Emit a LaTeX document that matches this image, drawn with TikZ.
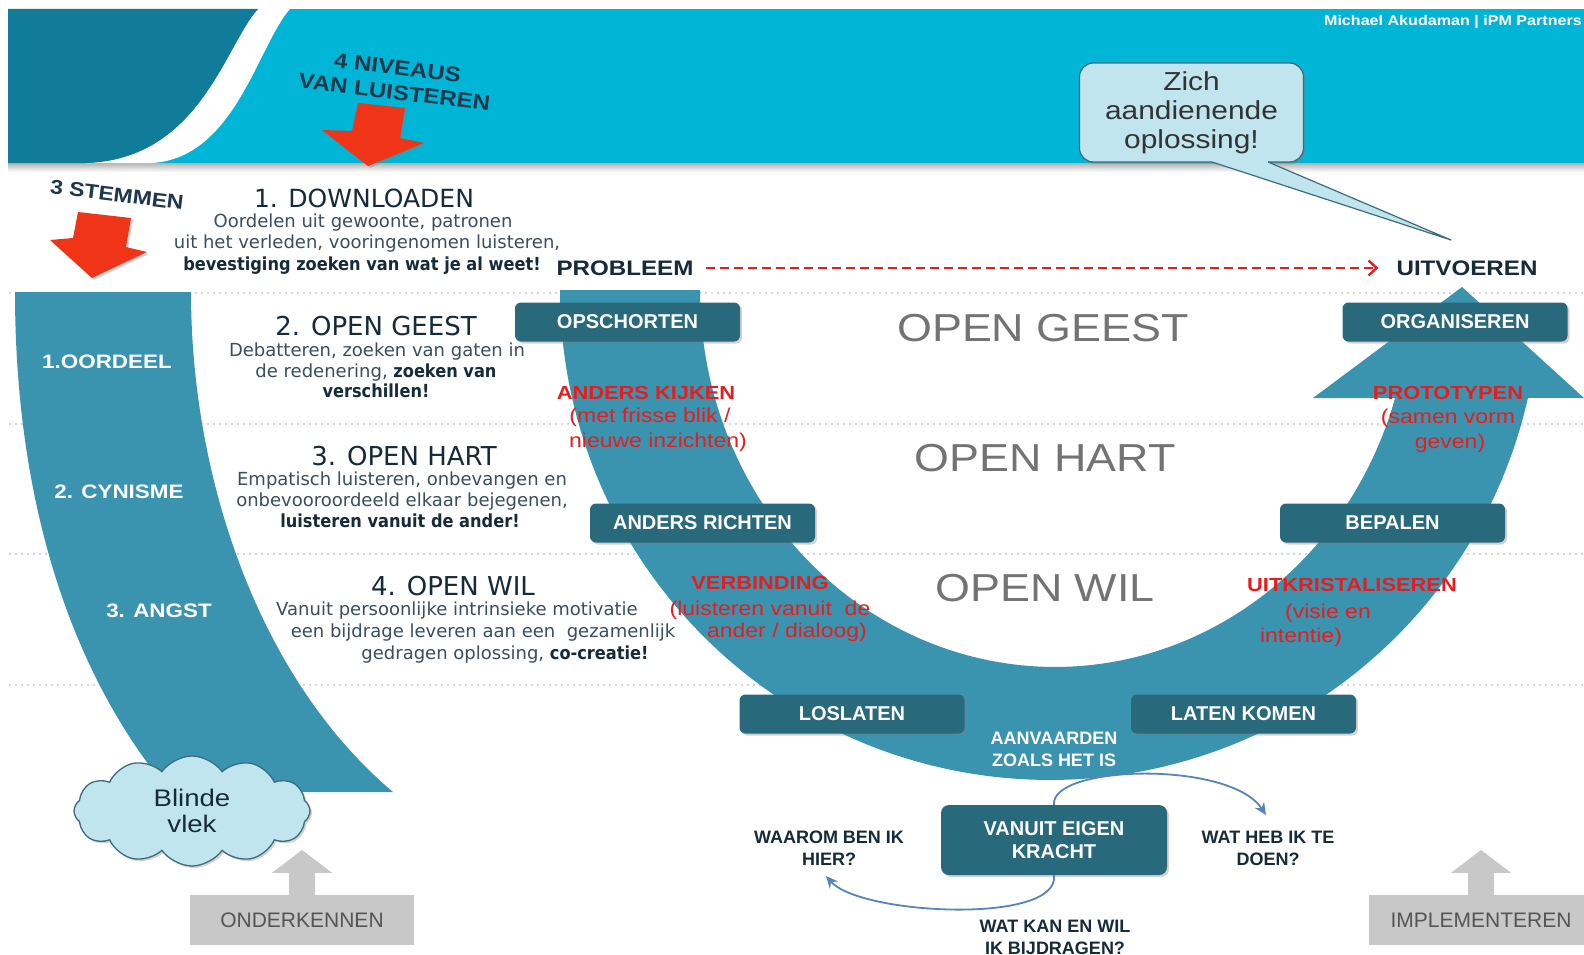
\documentclass[tikz,border=0pt]{standalone}
\usepackage{fontspec}
\usetikzlibrary{arrows.meta,shapes.symbols,shadows,calc}
\newfontfamily\dv{DejaVu Sans}[BoldFeatures={FakeStretch=0.9}]
\newfontfamily\ls{Liberation Sans}[FakeStretch=1.15]
\newfontfamily\lsn{Liberation Sans}
\definecolor{cyanb}{RGB}{0,181,213}
\definecolor{darkb}{RGB}{16,124,154}
\definecolor{bandc}{RGB}{58,148,175}
\definecolor{boxc}{RGB}{40,105,124}
\definecolor{txt}{RGB}{58,78,92}
\definecolor{txtd}{RGB}{22,42,56}
\definecolor{redl}{RGB}{232,28,28}
\definecolor{redarr}{RGB}{240,52,24}
\definecolor{grayt}{RGB}{115,115,115}
\definecolor{cloudf}{RGB}{192,229,238}
\definecolor{cloudd}{RGB}{62,108,122}
\definecolor{gboxc}{RGB}{200,200,200}
\definecolor{gtext}{RGB}{85,85,85}
\definecolor{blueline}{RGB}{88,132,190}
\definecolor{dotc}{RGB}{165,176,182}
\definecolor{navy}{RGB}{30,55,75}
\begin{document}
\begin{tikzpicture}[x=1pt,y=-1pt,
  hd/.style={font=\dv\fontsize{26}{30}\selectfont, text=txtd, inner sep=0pt, anchor=base},
  bd/.style={font=\dv\fontsize{18}{22}\selectfont, text=txt, inner sep=0pt, anchor=base},
  gbig/.style={font=\ls\fontsize{39}{44}\selectfont, text=grayt, inner sep=0pt},
  rl/.style={font=\ls\bfseries\fontsize{19}{22}\selectfont, text=redl, inner sep=0pt},
  rlt/.style={font=\ls\fontsize{20}{22}\selectfont, text=redl, inner sep=0pt},
  bx/.style={fill=boxc, rounded corners=6pt, minimum width=225pt, minimum height=39pt, text=white,
     font=\lsn\bfseries\fontsize{20}{23}\selectfont, inner sep=0pt,
     drop shadow={opacity=.35, shadow xshift=2pt, shadow yshift=-2pt}},
  wl/.style={font=\ls\bfseries\fontsize{19.5}{22}\selectfont, text=white, inner sep=0pt},
  lbl/.style={font=\ls\bfseries\fontsize{21}{24}\selectfont, text=txtd, inner sep=0pt},
  tilt/.style={font=\ls\bfseries\fontsize{21}{24.5}\selectfont, text=navy, inner sep=0pt, rotate=-7, align=center},
  qq/.style={font=\lsn\bfseries\fontsize{18}{22}\selectfont, text=txtd, align=center, inner sep=0pt},
  gbx/.style={fill=gboxc, minimum width=224pt, minimum height=50pt, inner sep=0pt,
     font=\lsn\fontsize{21}{24}\selectfont, text=gtext},
  blarrow/.style={draw=blueline, line width=1.8pt, -{Stealth[length=12pt,width=11pt,inset=4pt]}},
  reddash/.style={draw=redl, line width=2pt, dash pattern=on 9pt off 5pt, -{Straight Barb[length=8pt,width=15pt,line width=2.4pt]}},
  dotline/.style={draw=dotc, line width=1.6pt, line cap=round, dash pattern=on 0pt off 6pt},
  redblock/.style={fill=redarr, drop shadow={opacity=.3, shadow xshift=2pt, shadow yshift=-2pt}}
]
\useasboundingbox (0,0) rectangle (1584,955);
\fill[white] (0,0) rectangle (1584,955);

% banner
\shade[top color=black!30, bottom color=white] (8,163) rectangle (1584,172);
\fill[cyanb] (8,9) rectangle (1584,163);
\fill[white] (258,9) -- (290,9) .. controls (258,45) and (235,158) .. (152,163) -- (85,163) .. controls (200,160) and (225,45) .. (258,9) -- cycle;
\fill[darkb] (8,9) -- (258,9) .. controls (225,45) and (200,160) .. (85,163) -- (8,163) -- cycle;
\node[anchor=east, font=\ls\bfseries\fontsize{14}{16}\selectfont, text=white, inner sep=0pt] (cred) at (1582,22) {Michael Akudaman | iPM Partners};

% dotted guide lines
\draw[dotline] (10,293) -- (1584,293);
\draw[dotline] (10,424) -- (1584,424);
\draw[dotline] (10,554) -- (1584,554);
\draw[dotline] (10,685) -- (1584,685);

% left band
\fill[bandc] (15,292) .. controls (15,480) and (60,660) .. (170,792) -- (393,792) .. controls (260,680) and (191,480) .. (191,292) -- cycle;

% U band with arrow head
\fill[bandc] (560,290) -- plot[domain=180:12.73,samples=100] ({1050+490*cos(\x)},{290+490*sin(\x)})
  -- (1584,398) -- (1462,287) -- (1313,398)
  -- plot[domain=16.65:180,samples=100] ({1055+355*cos(\x)},{290+377*sin(\x)}) -- cycle;

% red block arrows
\fill[redblock] (358,103) -- (405,108) -- (400,138) -- (424,143) -- (368,166) -- (322,130) -- (352,131) -- cycle;
\fill[redblock] (78,212) -- (131,218) -- (126,247) -- (147,252) -- (92,278) -- (50,240) -- (73,238) -- cycle;

\node[tilt] (niv) at (396,80) {4 NIVEAUS\\VAN LUISTEREN};
\node[tilt, font=\ls\bfseries\fontsize{20}{22}\selectfont] (stem) at (117,195) {3 STEMMEN};

% listening levels
\node[hd, font=\dv\fontsize{25}{30}\selectfont] (h1) at (364,207) {1. DOWNLOADEN};
\node[bd] (b1a) at (363,227) {Oordelen uit gewoonte, patronen};
\node[bd] (b1b) at (367,248) {uit het verleden, vooringenomen luisteren,};
\node[bd, text=txtd] (b1c) at (362,270) {\bfseries bevestiging zoeken van wat je al weet!};

\node[hd] (h2) at (376,335) {2. OPEN GEEST};
\node[bd] (b2a) at (377,356) {Debatteren, zoeken van gaten in};
\node[bd] (b2b) at (376,377) {de redenering, {\bfseries\color{txtd}zoeken van}};
\node[bd, text=txtd] (b2c) at (376,397) {\bfseries verschillen!};

\node[hd] (h3) at (404,465) {3. OPEN HART};
\node[bd] (b3a) at (402,485) {Empatisch luisteren, onbevangen en};
\node[bd] (b3b) at (402,506) {onbevooroordeeld elkaar bejegenen,};
\node[bd, text=txtd] (b3c) at (400,527) {\bfseries luisteren vanuit de ander!};

\node[hd] (h4) at (453,595) {4. OPEN WIL};
\node[bd] (b4a) at (457,615) {Vanuit persoonlijke intrinsieke motivatie};
\node[bd] (b4b) at (483,637) {een bijdrage leveren aan een\ \ gezamenlijk};
\node[bd] (b4c) at (505,659) {gedragen oplossing, {\bfseries\color{txtd}co-creatie!}};

% left band labels
\node[wl] (oord) at (107,362) {1.OORDEEL};
\node[wl] (cyn) at (119,492) {2. CYNISME};
\node[wl] (angst) at (159,611) {3. ANGST};

% problem -> execute
\node[lbl] (prob) at (625,268) {PROBLEEM};
\node[lbl] (uitv) at (1467,268) {UITVOEREN};
\draw[reddash] ([xshift=12pt]prob.east) -- ([xshift=-18pt]uitv.west);

% big grey
\node[gbig] (og) at (1043,328) {OPEN GEEST};
\node[gbig] (oh) at (1045,458) {OPEN HART};
\node[gbig] (ow) at (1045,588) {OPEN WIL};

% red labels
\node[rl] (ak) at (646,393) {ANDERS KIJKEN};
\node[rlt] (ak1) at (650,417) {(met frisse blik /};
\node[rlt] (ak2) at (658,442) {nieuwe inzichten)};
\node[rl] (verb) at (760,583) {VERBINDING};
\node[rlt] (verb1) at (770,610) {(luisteren vanuit\ \ de};
\node[rlt] (verb2) at (787,632) {ander / dialoog)};
\node[rl] (proto) at (1448,393) {PROTOTYPEN};
\node[rlt] (proto1) at (1448,418) {(samen vorm};
\node[rlt] (proto2) at (1450,443) {geven)};
\node[rl] (uitk) at (1352,585) {UITKRISTALISEREN};
\node[rlt] (uitk1) at (1328,613) {(visie en};
\node[rlt] (uitk2) at (1301,637) {intentie)};

% step boxes
\node[bx] (ops) at (627.5,322) {OPSCHORTEN};
\node[bx] (org) at (1455,322) {ORGANISEREN};
\node[bx] (ar) at (702.5,523) {ANDERS RICHTEN};
\node[bx] (bep) at (1392.5,523) {BEPALEN};
\node[bx] (los) at (852,714) {LOSLATEN};
\node[bx] (lk) at (1243.5,714) {LATEN KOMEN};
\node[font=\lsn\bfseries\fontsize{18}{22}\selectfont, text=white, align=center, inner sep=0pt] (aanv) at (1054,749) {AANVAARDEN\\ZOALS HET IS};
\node[bx, minimum height=70pt, minimum width=226pt, rounded corners=8pt, align=center, font=\lsn\bfseries\fontsize{20}{23}\selectfont] (vk) at (1054,840) {VANUIT EIGEN\\KRACHT};

% blue loop arrows
\coordinate (wh) at (1266,815);
\coordinate (wb) at (826,876);
\draw[blarrow] (vk.north) .. controls (1050,765) and (1230,760) .. (wh);
\draw[blarrow] (vk.south) .. controls (1060,925) and (860,915) .. (wb);
\node[qq] (waarom) at (829,848) {WAAROM BEN IK\\HIER?};
\node[qq] (wathe) at (1268,848) {WAT HEB IK TE\\DOEN?};
\node[qq] (watkan) at (1055,937) {WAT KAN EN WIL\\IK BIJDRAGEN?};

% callout
\node[fill=cloudf, draw=cloudd, line width=1.2pt, rounded corners=14pt, minimum width=224pt, minimum height=99pt,
  align=center, font=\ls\fontsize{26}{29}\selectfont, text=black!80, inner sep=0pt,
  drop shadow={opacity=.35, shadow xshift=2pt, shadow yshift=-2pt}] (zich) at (1191.5,112.5) {Zich\\aandienende\\oplossing!};
\coordinate (ztip) at (1451,240);
\fill[cloudf] (1212,156) -- (1212,162) -- (ztip) -- (1268,162) -- (1268,156) -- cycle;
\draw[cloudd, line width=1.2pt, line join=round] (1212,162) -- (ztip) -- (1268,162);

% cloud
\node[cloud, cloud puffs=12, cloud puff arc=110, aspect=2.1, fill=cloudf, draw=cloudd, line width=1.3pt,
  minimum width=236pt, minimum height=110pt, inner sep=0pt, align=center,
  font=\ls\fontsize{24}{26}\selectfont, text=txtd,
  drop shadow={opacity=.35, shadow xshift=2pt, shadow yshift=-2pt}] (bv) at (192,811) {Blinde\\vlek};

% grey boxes with up arrows
\node[gbx] (ond) at (302,920) {ONDERKENNEN};
\fill[gboxc] ([xshift=-13pt]ond.north) -- ++(0,-22) -- ++(-17,0) -- (302,850) -- ([xshift=30pt,yshift=22pt]ond.north) -- ([xshift=13pt,yshift=22pt]ond.north) -- ([xshift=13pt]ond.north) -- cycle;
\node[gbx] (impl) at (1481,920) {IMPLEMENTEREN};
\fill[gboxc] ([xshift=-13pt]impl.north) -- ++(0,-22) -- ++(-17,0) -- (1481,850) -- ([xshift=30pt,yshift=22pt]impl.north) -- ([xshift=13pt,yshift=22pt]impl.north) -- ([xshift=13pt]impl.north) -- cycle;
\end{tikzpicture}
\end{document}
